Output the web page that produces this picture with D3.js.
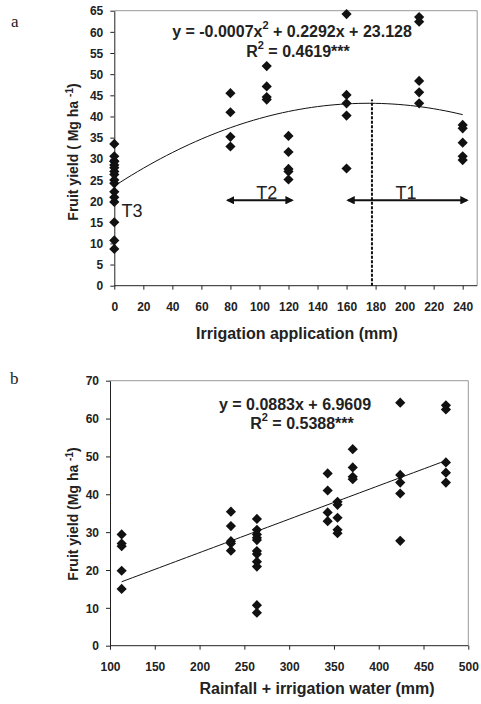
<!DOCTYPE html>
<html>
<head>
<meta charset="utf-8">
<script src="https://cdn.jsdelivr.net/npm/d3@7"></script>
<style>
  html, body { margin: 0; padding: 0; background: #fff; }
  svg { display: block; font-family: Arial, "Liberation Sans", sans-serif; }
  .tick text { font-size: 12px; font-weight: bold; fill: #222; }
  .axis path, .axis line { stroke: #222; }
</style>
</head>
<body>
<svg id="chart" width="481" height="704"></svg>
<script>
// Chart a: yield per irrigation group, chart b: same plots against total water
const irrigation = [0, 0, 80, 105, 120, 160, 210, 240];
const totalWater = [113, 264, 343, 371, 235, 424, 475, 354];
const yields = [
    [29.4, 27.0, 26.3, 19.8, 15.0],
    [33.5, 30.6, 29.4, 28.5, 27.9, 25.0, 24.2, 22.2, 20.9, 10.7, 8.7],
    [45.5, 41.0, 35.2, 32.9],
    [51.9, 47.1, 44.6, 44.0],
    [35.4, 31.6, 27.6, 27.0, 25.1],
    [64.2, 45.1, 43.1, 40.2, 27.7],
    [63.5, 62.4, 48.4, 45.7, 43.1],
    [38.0, 37.2, 33.8, 30.6, 29.7]
];
const xTicksA = d3.range(0, 241, 20);
const yTicksA = d3.range(0, 66, 5);
const xTicksB = d3.range(100, 501, 50);
const yTicksB = d3.range(0, 71, 10);

const svg = d3.select('#chart');

const points = [];
yields.forEach((ys, i) => ys.forEach(y => points.push({ irr: irrigation[i], water: totalWater[i], y })));

// least squares polynomial fit (normal equations)
function polyfit(xs, ys, deg) {
    const n = deg + 1;
    const A = [];
    for (let r = 0; r < n; r++) {
        A.push([]);
        for (let c = 0; c < n; c++) A[r].push(d3.sum(xs, x => Math.pow(x, r + c)));
        A[r].push(d3.sum(xs, (x, i) => ys[i] * Math.pow(x, r)));
    }
    for (let c = 0; c < n; c++) {
        for (let r = c + 1; r < n; r++) {
            const f = A[r][c] / A[c][c];
            for (let k = c; k <= n; k++) A[r][k] -= f * A[c][k];
        }
    }
    const coef = new Array(n).fill(0);
    for (let r = n - 1; r >= 0; r--) {
        let s = A[r][n];
        for (let k = r + 1; k < n; k++) s -= A[r][k] * coef[k];
        coef[r] = s / A[r][r];
    }
    return x => coef.reduce((acc, c, i) => acc + c * Math.pow(x, i), 0);
}

const diamond = d3.symbol().type(d3.symbolSquare).size(52);

function drawPanel(opt) {
    const { x, y, xTicks, yTicks, xKey } = opt;
    const [x0, x1] = x.range();
    const [y0, y1] = y.range();
    const g = svg.append('g');

    // plot frame (top/right in gray)
    g.append('path')
        .attr('d', `M${x0},${y1}H${x1}V${y0}`)
        .attr('fill', 'none').attr('stroke', '#999').attr('stroke-width', 1);

    const gx = g.append('g').attr('class', 'axis')
        .attr('transform', `translate(0,${y0})`)
        .call(d3.axisBottom(x).tickValues(xTicks).tickSizeInner(4).tickSizeOuter(0).tickPadding(13).tickFormat(d3.format('d')));
    gx.select('.domain').attr('d', `M${x0},0H${x1}`);

    g.append('g').attr('class', 'axis')
        .attr('transform', `translate(${x0},0)`)
        .call(d3.axisLeft(y).tickValues(yTicks).tickSizeInner(4).tickSizeOuter(0).tickPadding(7).tickFormat(d3.format('d')))
        .selectAll('.tick text').attr('dy', '0.35em');

    // fit line
    const xs = points.map(d => d[xKey]);
    const f = polyfit(xs, points.map(d => d.y), opt.deg);
    const lo = d3.min(xs), hi = d3.max(xs);
    const steps = d3.range(lo, hi, (hi - lo) / 60).concat([hi]);
    g.append('path')
        .datum(steps)
        .attr('fill', 'none').attr('stroke', '#111').attr('stroke-width', 1)
        .attr('d', d3.line().x(v => x(v)).y(v => y(f(v))));

    g.selectAll('.pt')
        .data(points)
        .enter().append('path')
        .attr('class', 'pt')
        .attr('d', diamond)
        .attr('fill', '#111')
        .attr('transform', d => `translate(${x(d[xKey])},${y(d.y)}) rotate(45)`);

    return g;
}

// ---------- panel a ----------
const xA = d3.scaleLinear([0, 250], [114.3, 477.2]);
const yA = d3.scaleLinear([0, 65], [285.7, 10.7]);
const gA = drawPanel({ x: xA, y: yA, xTicks: xTicksA, yTicks: yTicksA, xKey: 'irr', deg: 2 });

// vertical dashed line at the optimum
gA.append('line')
    .attr('x1', xA(177.5)).attr('x2', xA(177.5))
    .attr('y1', yA(0)).attr('y2', yA(44))
    .attr('stroke', '#111').attr('stroke-width', 2).attr('stroke-dasharray', '3,1.5');

const defs = svg.append('defs');
defs.append('marker').attr('id', 'ah')
    .attr('viewBox', '0 0 10 10').attr('refX', 8).attr('refY', 5)
    .attr('markerWidth', 4.2).attr('markerHeight', 4.2).attr('orient', 'auto-start-reverse')
    .attr('markerUnits', 'strokeWidth')
    .append('path').attr('d', 'M0,0L10,5L0,10Z').attr('fill', '#111');

const arrows = [
    { from: 78, to: 122.5, label: 'T2', lx: 105 },
    { from: 161, to: 243, label: 'T1', lx: 201 }
];
arrows.forEach(a => {
    gA.append('line')
        .attr('x1', xA(a.from)).attr('x2', xA(a.to))
        .attr('y1', yA(20.2)).attr('y2', yA(20.2))
        .attr('stroke', '#111').attr('stroke-width', 2)
        .attr('marker-start', 'url(#ah)').attr('marker-end', 'url(#ah)');
    gA.append('text').attr('x', xA(a.lx)).attr('y', yA(20.2) - 1)
        .attr('text-anchor', 'middle').attr('font-size', 18).attr('fill', '#222').text(a.label);
});
gA.append('text').attr('x', xA(5)).attr('y', yA(16.3))
    .attr('font-size', 18).attr('fill', '#222').text('T3');

// parts: plain strings, or ['sup', text] for a superscript
function equation(g, cx, yy, parts) {
    const t = g.append('text').attr('x', cx).attr('y', yy)
        .attr('text-anchor', 'middle').attr('font-size', 16).attr('font-weight', 'bold').attr('fill', '#222');
    let shift = 0;
    parts.forEach(p => {
        if (typeof p === 'string') {
            t.append('tspan').attr('dy', shift).text(p);
            shift = 0;
        } else {
            t.append('tspan').attr('dy', -8).attr('font-size', 11).text(p[1]);
            shift = 8;
        }
    });
}
equation(gA, 292, 37, ['y = -0.0007x', ['sup', '2'], ' + 0.2292x + 23.128']);
equation(gA, 298, 56.5, ['R', ['sup', '2'], ' = 0.4619***']);

gA.append('text').attr('x', 297).attr('y', 339).attr('text-anchor', 'middle')
    .attr('font-size', 16).attr('font-weight', 'bold').attr('fill', '#222')
    .text('Irrigation application (mm)');
const ytA = gA.append('text').attr('transform', 'translate(78,152) rotate(-90)').attr('text-anchor', 'middle')
    .attr('font-size', 14).attr('font-weight', 'bold').attr('fill', '#222');
ytA.append('tspan').text('Fruit yield ( Mg ha ');
ytA.append('tspan').attr('dy', -5).attr('font-size', 10).text('-1');
ytA.append('tspan').attr('dy', 5).text(')');

svg.append('text').attr('x', 11).attr('y', 27).attr('font-family', '"Liberation Serif", "DejaVu Serif", serif')
    .attr('font-size', 17).attr('fill', '#222').text('a');

// ---------- panel b ----------
const xB = d3.scaleLinear([100, 500], [110, 468.3]);
const yB = d3.scaleLinear([0, 70], [645.7, 380.7]);
const gB = drawPanel({ x: xB, y: yB, xTicks: xTicksB, yTicks: yTicksB, xKey: 'water', deg: 1 });

equation(gB, 295, 410, ['y = 0.0883x + 6.9609']);
equation(gB, 302, 429, ['R', ['sup', '2'], ' = 0.5388***']);

gB.append('text').attr('x', 317).attr('y', 694).attr('text-anchor', 'middle')
    .attr('font-size', 16).attr('font-weight', 'bold').attr('fill', '#222')
    .text('Rainfall + irrigation water (mm)');
const ytB = gB.append('text').attr('transform', 'translate(78,514) rotate(-90)').attr('text-anchor', 'middle')
    .attr('font-size', 14).attr('font-weight', 'bold').attr('fill', '#222');
ytB.append('tspan').text('Fruit yield (Mg ha ');
ytB.append('tspan').attr('dy', -5).attr('font-size', 10).text('-1');
ytB.append('tspan').attr('dy', 5).text(')');

svg.append('text').attr('x', 10).attr('y', 384).attr('font-family', '"Liberation Serif", "DejaVu Serif", serif')
    .attr('font-size', 17).attr('fill', '#222').text('b');
</script>
</body>
</html>
